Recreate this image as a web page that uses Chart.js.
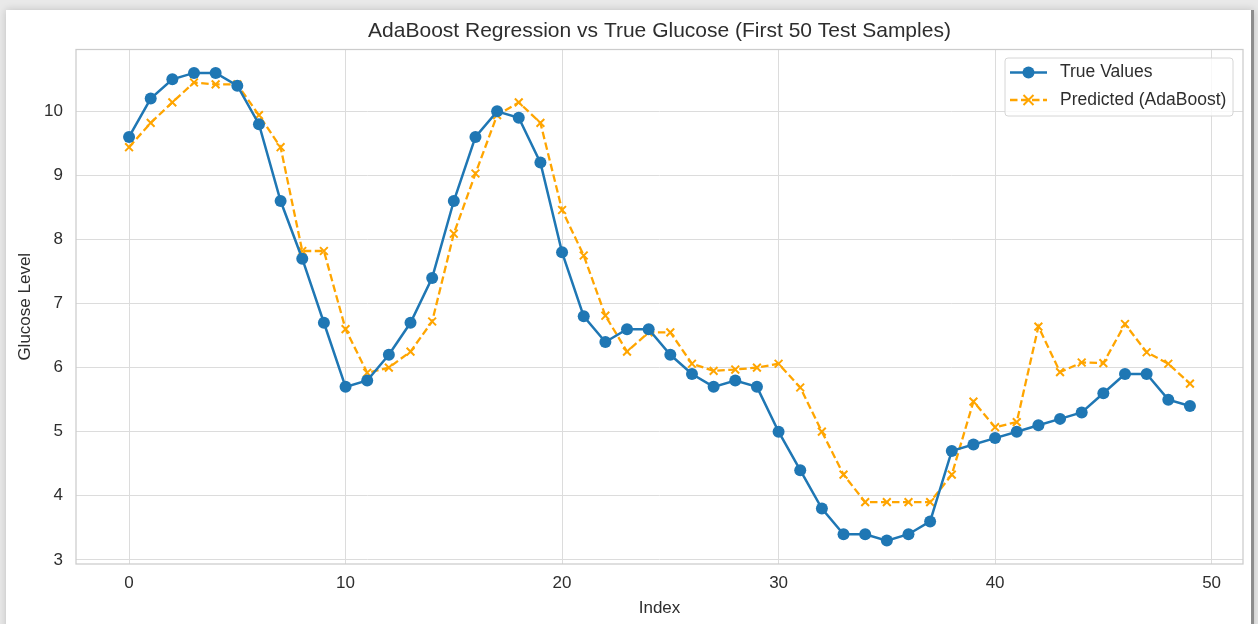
<!DOCTYPE html>
<html>
<head>
<meta charset="utf-8">
<script src="https://cdn.jsdelivr.net/npm/chart.js@4.4.1/dist/chart.umd.min.js"></script>
<style>
    html, body { margin: 0; padding: 0; }
    body { width: 1258px; height: 624px; background: #e9e9e9; position: relative; overflow: hidden; }
    #frame {
        position: absolute; left: 6px; top: 10px; width: 1245px; height: 640px;
        background: #fff; border-right: 3px solid #8c8c8c;
        box-shadow: 0 0 8px rgba(0, 0, 0, 0.18);
    }
    #wrap { position: absolute; left: 0; top: 0; width: 1258px; height: 624px; }
</style>
</head>
<body>
<div id="frame"></div>
<div id="wrap"><canvas id="chart"></canvas></div>
<script>
const sampleIndex = [0, 1, 2, 3, 4, 5, 6, 7, 8, 9, 10, 11, 12, 13, 14, 15, 16, 17, 18, 19,
    20, 21, 22, 23, 24, 25, 26, 27, 28, 29, 30, 31, 32, 33, 34, 35, 36, 37, 38, 39,
    40, 41, 42, 43, 44, 45, 46, 47, 48, 49];

const trueValues = [9.6, 10.2, 10.5, 10.6, 10.6, 10.4, 9.8, 8.6, 7.7, 6.7,
    5.7, 5.8, 6.2, 6.7, 7.4, 8.6, 9.6, 10.0, 9.9, 9.2,
    7.8, 6.8, 6.4, 6.6, 6.6, 6.2, 5.9, 5.7, 5.8, 5.7,
    5.0, 4.4, 3.8, 3.4, 3.4, 3.3, 3.4, 3.6, 4.7, 4.8,
    4.9, 5.0, 5.1, 5.2, 5.3, 5.6, 5.9, 5.9, 5.5, 5.4];

const predicted = [9.44, 9.82, 10.14, 10.45, 10.42, 10.42, 9.94, 9.44, 7.82, 7.82,
    6.60, 5.92, 6.0, 6.25, 6.72, 8.09, 9.03, 9.94, 10.14, 9.82,
    8.46, 7.75, 6.81, 6.25, 6.55, 6.55, 6.06, 5.95, 5.97, 6.0,
    6.06, 5.69, 5.0, 4.33, 3.9, 3.9, 3.9, 3.9, 4.33, 5.47,
    5.07, 5.15, 6.64, 5.93, 6.08, 6.07, 6.68, 6.24, 6.06, 5.75];

const xTicks = [0, 10, 20, 30, 40, 50];
const yTicks = [3, 4, 5, 6, 7, 8, 9, 10];

const titleText = 'AdaBoost Regression vs True Glucose (First 50 Test Samples)';
const legendLabels = ['True Values', 'Predicted (AdaBoost)'];

const blue = '#1f77b4', orange = '#ffa500', textColor = '#2e2e2e';
const fontFamily = '"Liberation Sans", Arial, sans-serif';

function toPoints(values) {
    return values.map((v, i) => ({ x: sampleIndex[i], y: v }));
}

// frame around the plot, title and the legend box
const decorations = {
    id: 'decorations',
    beforeDatasetsDraw(chart) {
        const { ctx, chartArea: a } = chart;
        ctx.save();
        ctx.strokeStyle = '#cccccc';
        ctx.lineWidth = 1.25;
        ctx.strokeRect(a.left, a.top, a.right - a.left, a.bottom - a.top);
        ctx.restore();
    },
    afterDraw(chart) {
        const { ctx, chartArea: a } = chart;
        ctx.save();
        ctx.fillStyle = textColor;
        ctx.font = '21px ' + fontFamily;
        ctx.textAlign = 'center';
        ctx.textBaseline = 'middle';
        ctx.fillText(titleText, (a.left + a.right) / 2, 31.5);

        // legend
        const bx = 1005, by = 58, bw = 228, bh = 58;
        ctx.beginPath();
        ctx.roundRect(bx, by, bw, bh, 3);
        ctx.fillStyle = 'rgba(255,255,255,0.8)';
        ctx.fill();
        ctx.strokeStyle = '#d6d6d6';
        ctx.lineWidth = 1;
        ctx.stroke();

        const rows = [72.5, 100];
        // true values row
        ctx.strokeStyle = blue;
        ctx.lineWidth = 2.5;
        ctx.beginPath();
        ctx.moveTo(1010, rows[0]);
        ctx.lineTo(1047, rows[0]);
        ctx.stroke();
        ctx.fillStyle = blue;
        ctx.beginPath();
        ctx.arc(1028.5, rows[0], 6, 0, Math.PI * 2);
        ctx.fill();
        // predicted row
        ctx.strokeStyle = orange;
        ctx.setLineDash([7.5, 3.5]);
        ctx.beginPath();
        ctx.moveTo(1010, rows[1]);
        ctx.lineTo(1047, rows[1]);
        ctx.stroke();
        ctx.setLineDash([]);
        ctx.lineWidth = 2;
        ctx.beginPath();
        ctx.moveTo(1023.5, rows[1] - 5); ctx.lineTo(1033.5, rows[1] + 5);
        ctx.moveTo(1033.5, rows[1] - 5); ctx.lineTo(1023.5, rows[1] + 5);
        ctx.stroke();

        ctx.fillStyle = textColor;
        ctx.font = '17.5px ' + fontFamily;
        ctx.textAlign = 'left';
        ctx.fillText(legendLabels[0], 1060, rows[0]);
        ctx.fillText(legendLabels[1], 1060, rows[1]);
        ctx.restore();
    }
};

new Chart(document.getElementById('chart'), {
    type: 'line',
    data: {
        datasets: [{
            label: legendLabels[0],
            data: toPoints(trueValues),
            borderColor: blue,
            backgroundColor: blue,
            borderWidth: 2.5,
            pointStyle: 'circle',
            pointRadius: 6,
            pointBorderWidth: 0,
            tension: 0
        }, {
            label: legendLabels[1],
            data: toPoints(predicted),
            borderColor: orange,
            backgroundColor: orange,
            borderWidth: 2.3,
            borderDash: [7.5, 3.5],
            pointStyle: 'crossRot',
            pointRadius: 5.5,
            pointBorderWidth: 2,
            tension: 0
        }]
    },
    plugins: [decorations],
    options: {
        responsive: true,
        maintainAspectRatio: false,
        animation: false,
        layout: { padding: { top: 49.5, right: 15, bottom: 0, left: 0 } },
        plugins: {
            legend: { display: false },
            title: { display: false },
            tooltip: { enabled: false }
        },
        scales: {
            x: {
                type: 'linear',
                min: -2.45,
                max: 51.45,
                afterBuildTicks: axis => { axis.ticks = xTicks.map(v => ({ value: v })); },
                afterFit: axis => { axis.height = 60; },
                grid: { color: '#dcdcdc', lineWidth: 1, drawTicks: false },
                border: { display: false },
                ticks: { color: textColor, font: { size: 17, family: fontFamily }, padding: 9, maxRotation: 0 },
                title: { display: true, text: 'Index', color: textColor, font: { size: 17, family: fontFamily }, padding: { top: 0, bottom: 5 } }
            },
            y: {
                min: 2.935,
                max: 10.965,
                afterBuildTicks: axis => { axis.ticks = yTicks.map(v => ({ value: v })); },
                afterFit: axis => { axis.width = 76; },
                grid: { color: '#dcdcdc', lineWidth: 1, drawTicks: false },
                border: { display: false },
                ticks: { color: textColor, font: { size: 17, family: fontFamily }, padding: 13 },
                title: { display: true, text: 'Glucose Level', color: textColor, font: { size: 17, family: fontFamily }, padding: { top: 15, bottom: 0 } }
            }
        }
    }
});
</script>
</body>
</html>
